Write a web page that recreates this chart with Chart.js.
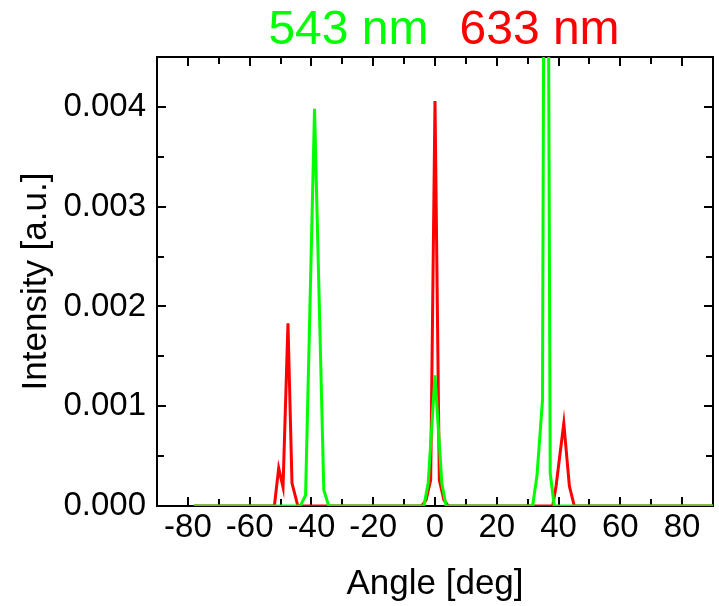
<!DOCTYPE html>
<html>
<head>
<meta charset="utf-8">
<script src="https://cdn.jsdelivr.net/npm/chart.js@4.4.1/dist/chart.umd.min.js"></script>
<style>
  html, body { margin: 0; padding: 0; background: #fff; }
  #wrap { width: 719px; height: 606px; }
</style>
</head>
<body>
<div id="wrap"><canvas id="diffChart" width="719" height="606"></canvas></div>
<script>
// 543 nm curve (green), angle in deg / intensity in a.u.
const greenAngle = [-78, -43.6, -41.9, -39.0, -36.0, -34.4, -3.6, -2.2, 0, 2.2, 3.6, 31.6, 33.0, 34.8, 35.9, 37.3, 38.6, 90];
const greenIntensity = [0, 0, 0.00011, 0.00398, 0.00016, 0, 0, 0.00023, 0.00131, 0.00023, 0, 0, 0.0003, 0.00106, 0.012, 0.00033, 0, 0];

// 633 nm curve (red)
const redAngle = [-78, -52.0, -50.6, -49.2, -47.6, -46.3, -44.4, -4.3, -2.9, -1.4, 0, 1.4, 2.9, 4.3, 38.1, 39.2, 41.7, 43.5, 45.1, 90];
const redIntensity = [0, 0, 0.00038, 0.00019, 0.00183, 0.00023, 0, 0, 0.00006, 0.00026, 0.00406, 0.00026, 0.00006, 0, 0, 0.0002, 0.00083, 0.0002, 0, 0];

// Axis ticks
const xTicks = [-80, -60, -40, -20, 0, 20, 40, 60, 80];
const xMinorTicks = [-70, -50, -30, -10, 10, 30, 50, 70];
const yTicks = [0, 0.001, 0.002, 0.003, 0.004];
const yMinorTicks = [0.0005, 0.0015, 0.0025, 0.0035];

const seriesNames = ['543 nm', '633 nm'];
const GREEN = '#00ff00';
const RED = '#ff0000';
const FONT = '"Liberation Sans", Arial, sans-serif';

function toPoints(xs, ys) {
    return xs.map((x, i) => ({ x: x, y: ys[i] }));
}

// Draws the closed frame with inward ticks, plus the two-coloured heading
const frameAndTicks = {
    id: 'frameAndTicks',
    beforeDatasetsDraw(chart) {
        const { ctx, chartArea: a, scales: { x, y } } = chart;
        ctx.save();
        ctx.strokeStyle = '#000';
        ctx.lineWidth = 2;
        ctx.strokeRect(a.left, a.top, a.right - a.left, a.bottom - a.top);

        ctx.beginPath();
        const xMark = (v, len) => {
            const px = Math.round(x.getPixelForValue(v));
            ctx.moveTo(px, a.bottom); ctx.lineTo(px, a.bottom - len);
            ctx.moveTo(px, a.top); ctx.lineTo(px, a.top + len);
        };
        const yMark = (v, len) => {
            const py = Math.round(y.getPixelForValue(v));
            ctx.moveTo(a.left, py); ctx.lineTo(a.left + len, py);
            ctx.moveTo(a.right, py); ctx.lineTo(a.right - len, py);
        };
        xTicks.forEach(v => xMark(v, 9));
        xMinorTicks.forEach(v => xMark(v, 7));
        yTicks.forEach(v => yMark(v, 9));
        yMinorTicks.forEach(v => yMark(v, 7));
        ctx.stroke();
        ctx.restore();
    },
    afterDraw(chart) {
        const { ctx, chartArea: a } = chart;
        ctx.save();
        ctx.font = '48px ' + FONT;
        ctx.textBaseline = 'alphabetic';
        ctx.textAlign = 'left';
        const gap = 31;
        const w0 = ctx.measureText(seriesNames[0]).width;
        const w1 = ctx.measureText(seriesNames[1]).width;
        const cx = (a.left + a.right) / 2 + 9;
        let start = cx - (w0 + gap + w1) / 2;
        ctx.fillStyle = GREEN;
        ctx.fillText(seriesNames[0], start, 44);
        ctx.fillStyle = RED;
        ctx.fillText(seriesNames[1], start + w0 + gap, 44);
        ctx.restore();
    }
};

const ctx = document.getElementById('diffChart').getContext('2d');
new Chart(ctx, {
    type: 'line',
    data: {
        datasets: [
            {
                label: seriesNames[0],
                data: toPoints(greenAngle, greenIntensity),
                borderColor: GREEN,
                borderWidth: 3,
                pointRadius: 0,
                tension: 0
            },
            {
                label: seriesNames[1],
                data: toPoints(redAngle, redIntensity),
                borderColor: RED,
                borderWidth: 3,
                pointRadius: 0,
                tension: 0
            }
        ]
    },
    options: {
        responsive: false,
        animation: false,
        layout: { padding: { top: 57, right: 6, left: 0, bottom: 0 } },
        plugins: {
            legend: { display: false },
            tooltip: { enabled: false }
        },
        scales: {
            x: {
                type: 'linear',
                min: -90,
                max: 90,
                afterBuildTicks: scale => { scale.ticks = xTicks.map(v => ({ value: v })); },
                afterFit: scale => { scale.height = 100; },
                grid: { display: false, drawTicks: false },
                border: { display: false },
                ticks: {
                    color: '#000',
                    padding: 2,
                    maxRotation: 0,
                    autoSkip: false,
                    font: { family: FONT, size: 33 },
                    callback: v => String(v)
                },
                title: {
                    display: true,
                    text: 'Angle [deg]',
                    color: '#000',
                    font: { family: FONT, size: 35 },
                    padding: { top: 0, bottom: 1 }
                }
            },
            y: {
                min: 0,
                max: 0.0045,
                afterBuildTicks: scale => { scale.ticks = yTicks.map(v => ({ value: v })); },
                afterFit: scale => { scale.width = 157; },
                grid: { display: false, drawTicks: false },
                border: { display: false },
                ticks: {
                    color: '#000',
                    padding: 11,
                    autoSkip: false,
                    font: { family: FONT, size: 33 },
                    callback: v => v.toFixed(3)
                },
                title: {
                    display: true,
                    text: 'Intensity [a.u.]',
                    color: '#000',
                    font: { family: FONT, size: 35 },
                    padding: { top: 15, bottom: 0 }
                }
            }
        }
    },
    plugins: [frameAndTicks]
});
</script>
</body>
</html>
